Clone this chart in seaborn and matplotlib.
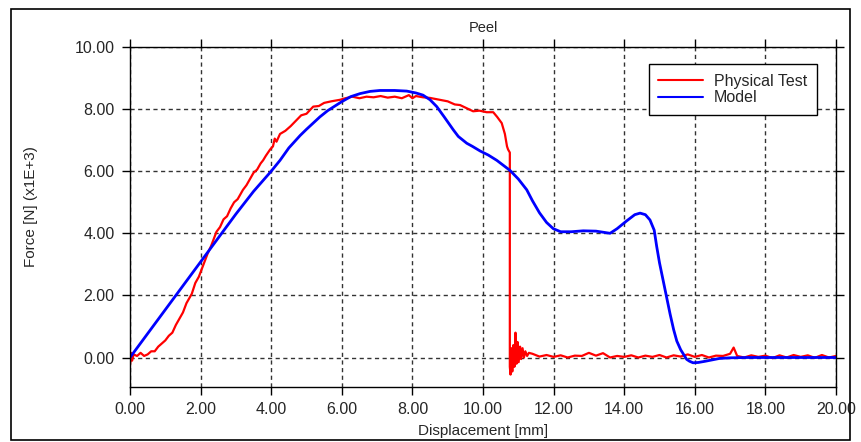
import matplotlib
matplotlib.use("Agg")
import matplotlib.pyplot as plt
import matplotlib.patches as mpatches
import pandas as pd
import seaborn as sns

# Physical test curve (red)
test_x = [0.0, 0.03, 0.06, 0.1, 0.2, 0.3, 0.4, 0.5, 0.6, 0.7, 0.8, 0.9, 1.0, 1.1, 1.2, 1.3,
          1.4, 1.5, 1.6, 1.7, 1.75, 1.85, 1.95, 2.05, 2.12, 2.2, 2.3, 2.4, 2.45, 2.55, 2.65,
          2.75, 2.85, 2.95, 3.05, 3.2, 3.3, 3.4, 3.5, 3.6, 3.7, 3.77, 3.85, 3.97, 4.05, 4.1,
          4.15, 4.25, 4.4, 4.55, 4.72, 4.85, 5.0, 5.19, 5.35, 5.5, 5.7, 5.95, 6.1, 6.3, 6.5,
          6.7, 6.9, 7.1, 7.3, 7.5, 7.7, 7.9, 8.0, 8.1, 8.3, 8.5, 8.78, 9.0, 9.2, 9.35, 9.5,
          9.72, 9.9, 10.1, 10.29, 10.4, 10.53, 10.62, 10.68, 10.71, 10.76, 10.76, 10.78,
          10.8, 10.83, 10.86, 10.89, 10.92, 10.95, 10.98, 11.01, 11.05, 11.08, 11.12, 11.16,
          11.2, 11.25, 11.3,
          11.4, 11.6, 11.8, 12.0, 12.2, 12.4, 12.6, 12.8, 13.0, 13.2, 13.4, 13.6, 13.8, 14.0,
          14.2, 14.4, 14.6, 14.8, 15.0, 15.2, 15.4, 15.6, 15.8, 16.0, 16.2, 16.4, 16.6, 16.8,
          17.0, 17.1, 17.2, 17.4, 17.6, 17.8, 18.0, 18.2, 18.4, 18.6, 18.8, 19.0, 19.2, 19.4,
          19.6, 19.8, 20.0]
test_y = [-0.25, 0.15, -0.1, 0.1, 0.05, 0.15, 0.05, 0.1, 0.2, 0.2, 0.35, 0.45, 0.55, 0.7,
          0.8, 1.05, 1.25, 1.45, 1.75, 1.95, 2.05, 2.4, 2.6, 2.9, 3.1, 3.35, 3.6, 3.9, 4.05,
          4.2, 4.45, 4.55, 4.8, 5.0, 5.1, 5.4, 5.55, 5.75, 5.95, 6.05, 6.25, 6.35, 6.5, 6.7,
          6.8, 7.05, 6.95, 7.2, 7.3, 7.45, 7.65, 7.8, 7.85, 8.08, 8.1, 8.2, 8.25, 8.3, 8.35,
          8.4, 8.35, 8.4, 8.38, 8.42, 8.37, 8.4, 8.35, 8.45, 8.35, 8.42, 8.38, 8.36, 8.3,
          8.25, 8.15, 8.13, 8.05, 7.93, 7.95, 7.9, 7.9, 7.75, 7.55, 7.2, 6.8, 6.7, 6.6, -0.3,
          -0.55, 0.3, -0.45, 0.4, -0.3, 0.8, -0.2, 0.5, -0.15, 0.35, -0.05, 0.3, 0.0, 0.2,
          0.05, 0.15,
          0.12, 0.03, 0.08, 0.02, 0.07, 0.0, 0.06, 0.05, 0.15, 0.06, 0.14, 0.0, 0.05, 0.02,
          0.07, 0.0, 0.06, 0.02, 0.08, 0.0, 0.07, 0.03, 0.1, 0.02, 0.08, 0.0, 0.06, 0.05,
          0.12, 0.32, 0.05, 0.0, 0.07, 0.02, 0.06, -0.02, 0.07, 0.0, 0.08, 0.02, 0.07, -0.01,
          0.08, 0.0, 0.05]

# Model curve (blue)
model_x = [0.0, 1.0, 2.0, 3.0, 3.5, 4.0, 4.25, 4.5, 4.82, 5.0, 5.38, 5.6, 6.0, 6.25, 6.52,
           6.8, 7.08, 7.5, 7.84, 8.1, 8.3, 8.5, 8.69, 8.9, 9.16, 9.3, 9.54, 9.7, 9.92, 10.15,
           10.39, 10.76, 11.0, 11.24, 11.4, 11.6, 11.8, 11.99, 12.2, 12.5, 12.84, 13.2, 13.6,
           13.8, 14.07, 14.3, 14.45, 14.6, 14.73, 14.85, 14.92, 15.0, 15.1, 15.2, 15.3, 15.4,
           15.49, 15.6, 15.77, 15.85, 15.95, 16.1, 16.3, 16.7, 17.0, 17.5, 18.5, 20.0]
model_y = [0.0, 1.54, 3.08, 4.62, 5.35, 6.0, 6.35, 6.75, 7.15, 7.35, 7.75, 7.95, 8.24,
           8.4, 8.5, 8.57, 8.6, 8.6, 8.58, 8.52, 8.45, 8.3, 8.08, 7.75, 7.33, 7.12, 6.9,
           6.8, 6.65, 6.52, 6.35, 6.03, 5.75, 5.4, 5.05, 4.66, 4.35, 4.15, 4.05, 4.05, 4.08,
           4.07, 4.0, 4.15, 4.4, 4.6, 4.65, 4.6, 4.43, 4.1, 3.58, 3.05, 2.5, 1.95, 1.4, 0.9,
           0.53, 0.25, -0.06, -0.12, -0.17, -0.16, -0.12, -0.03, -0.01, 0.0, 0.0, 0.0]

df = pd.concat([
    pd.DataFrame({"x": test_x, "y": test_y, "series": "Physical Test"}),
    pd.DataFrame({"x": model_x, "y": model_y, "series": "Model"}),
])

sns.set_style("ticks")
plt.rcParams["font.family"] = ["Liberation Sans", "DejaVu Sans"]

fig = plt.figure(figsize=(8.62, 4.42), dpi=100)
ax = fig.add_axes([130 / 862, 55 / 442, 706 / 862, 340 / 442])

sns.lineplot(data=df, x="x", y="y", hue="series", estimator=None, sort=False,
             palette={"Physical Test": "#ff0000", "Model": "#0000ff"}, ax=ax)
for line, lw in zip(ax.lines, [1.6, 2.0]):
    line.set_linewidth(lw)

ax.set_xlim(0, 20)
ax.set_ylim(-0.95, 10)
ax.set_xticks(range(0, 21, 2))
ax.set_yticks(range(0, 11, 2))
ax.xaxis.set_major_formatter(matplotlib.ticker.FormatStrFormatter("%.2f"))
ax.yaxis.set_major_formatter(matplotlib.ticker.FormatStrFormatter("%.2f"))
ax.tick_params(direction="out", length=6, width=1, labelsize=11.5, pad=5,
               top=True, right=True, color="black")
ax.grid(True, color="#333333", linestyle=(0, (3, 2.5)), linewidth=1)
for s in ax.spines.values():
    s.set_color("black")
    s.set_linewidth(1)

ax.set_title("Peel", fontsize=10.5, y=1.02)
ax.set_xlabel("Displacement [mm]", fontsize=11)
ax.set_ylabel("Force [N] (x1E+3)", fontsize=11)
ax.xaxis.set_label_coords(0.5, -0.11)
ax.yaxis.set_label_coords(-0.13, 0.53)

leg = ax.legend(loc="upper right", bbox_to_anchor=(0.973, 0.95), fontsize=11.5,
                frameon=True, fancybox=False, edgecolor="black", framealpha=1,
                handlelength=2.8, borderpad=0.6, borderaxespad=0, labelspacing=0.1,
                handletextpad=0.7)
leg.get_frame().set_linewidth(1)
for h in leg.get_lines():
    h.set_linewidth(1.5)

fig.patches.append(mpatches.Rectangle((11 / 862, 2 / 442), 839 / 862, 431 / 442,
                                      transform=fig.transFigure, fill=False,
                                      edgecolor="black", linewidth=1.2))

fig.savefig("out.png", dpi=100)
